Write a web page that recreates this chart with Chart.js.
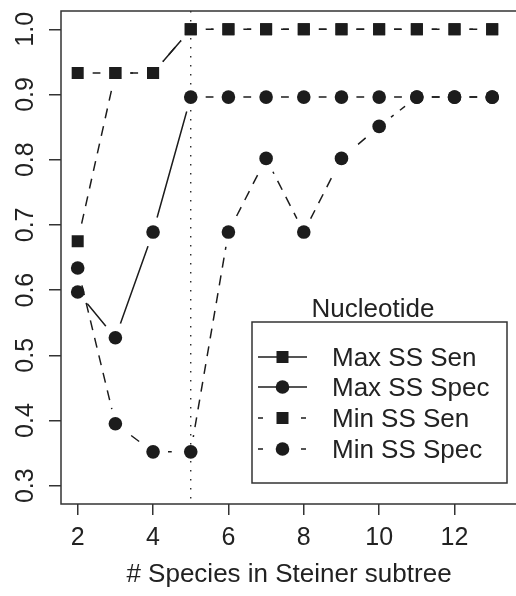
<!DOCTYPE html>
<html>
<head>
<meta charset="utf-8">
<script src="https://cdn.jsdelivr.net/npm/chart.js@4.4.1/dist/chart.umd.min.js"></script>
<style>
  html, body { margin: 0; padding: 0; background: #fff; overflow: hidden; }
  #wrap { width: 516px; height: 596px; }
</style>
</head>
<body>
<div id="wrap"><canvas id="chart" width="516" height="596"></canvas></div>
<script>
// values
const speciesCounts = [2, 3, 4, 5, 6, 7, 8, 9, 10, 11, 12, 13];
const maxSSSen  = [0.933, 0.933, 0.933, 1, 1, 1, 1, 1, 1, 1, 1, 1];
const maxSSSpec = [0.597, 0.527, 0.689, 0.896, 0.896, 0.896, 0.896, 0.896, 0.896, 0.896, 0.896, 0.896];
const minSSSen  = [0.675, 0.933, 0.933, 1, 1, 1, 1, 1, 1, 1, 1, 1];
const minSSSpec = [0.634, 0.395, 0.352, 0.352, 0.689, 0.802, 0.689, 0.802, 0.851, 0.896, 0.896, 0.896];
const xTicks = [2, 4, 6, 8, 10, 12];
const yTicks = [0.3, 0.4, 0.5, 0.6, 0.7, 0.8, 0.9, 1.0];
const cutoffSpecies = 5;

const INK = '#1c1c1c';
const FONT = '"Liberation Sans", Arial, sans-serif';
const GAP = 15;

const series = [
    { label: 'Max SS Sen',  values: maxSSSen,  shape: 'rect',   dashed: false },
    { label: 'Max SS Spec', values: maxSSSpec, shape: 'circle', dashed: false },
    { label: 'Min SS Sen',  values: minSSSen,  shape: 'rect',   dashed: true },
    { label: 'Min SS Spec', values: minSSSpec, shape: 'circle', dashed: true }
];

function toPoints(values) {
    return speciesCounts.map((x, i) => ({ x: x, y: values[i] }));
}

function markerRadius(shape) {
    return shape === 'rect' ? 8.5 : 6.8;
}

const datasets = [];
// lines first (with R-style gaps around points), then markers
series.forEach(s => {
    datasets.push({
        label: s.label,
        data: toPoints(s.values),
        gapLine: true,
        showLine: true,
        borderColor: INK,
        borderWidth: 1.5,
        borderDash: s.dashed ? [10, 8] : [],
        pointRadius: 0,
        pointHoverRadius: 0,
        fill: false,
        tension: 0
    });
});
series.forEach(s => {
    datasets.push({
        label: s.label + ' pts',
        data: toPoints(s.values),
        showLine: false,
        pointStyle: s.shape,
        pointRadius: markerRadius(s.shape),
        pointBackgroundColor: INK,
        pointBorderColor: INK,
        pointBorderWidth: 0
    });
});

// cut the lines near each point like plot(type = "b")
const gapPlugin = {
    id: 'gapPlugin',
    beforeDatasetDraw(chart, args) {
        const ds = chart.data.datasets[args.index];
        if (!ds.gapLine) return;
        const ctx = chart.ctx;
        ctx.save();
        ctx.beginPath();
        ctx.rect(0, 0, chart.width, chart.height);
        args.meta.data.forEach(pt => {
            ctx.moveTo(pt.x + GAP, pt.y);
            ctx.arc(pt.x, pt.y, GAP, 0, Math.PI * 2);
        });
        ctx.clip('evenodd');
    },
    afterDatasetDraw(chart, args) {
        const ds = chart.data.datasets[args.index];
        if (ds.gapLine) chart.ctx.restore();
    }
};

const framePlugin = {
    id: 'framePlugin',
    beforeDatasetsDraw(chart) {
        const ctx = chart.ctx;
        const a = chart.chartArea;
        const xs = chart.scales.x;
        const vx = xs.getPixelForValue(cutoffSpecies);
        ctx.save();
        ctx.strokeStyle = INK;
        ctx.lineWidth = 1.3;
        ctx.setLineDash([1.6, 7.4]);
        ctx.beginPath();
        ctx.moveTo(vx, a.top);
        ctx.lineTo(vx, a.bottom);
        ctx.stroke();
        ctx.restore();
    },
    afterDraw(chart) {
        const ctx = chart.ctx;
        const a = chart.chartArea;
        const xs = chart.scales.x;
        const ys = chart.scales.y;
        ctx.save();
        // box: the right side falls just outside the picture
        ctx.strokeStyle = '#333';
        ctx.lineWidth = 1.5;
        ctx.beginPath();
        ctx.moveTo(chart.width, a.top);
        ctx.lineTo(a.left, a.top);
        ctx.lineTo(a.left, a.bottom);
        ctx.lineTo(chart.width, a.bottom);
        ctx.stroke();

        ctx.fillStyle = '#222';
        ctx.font = '25px ' + FONT;
        ctx.textAlign = 'center';
        ctx.textBaseline = 'alphabetic';
        xTicks.forEach(v => {
            ctx.fillText(String(v), xs.getPixelForValue(v), 545);
        });
        yTicks.forEach(v => {
            ctx.save();
            ctx.translate(33, ys.getPixelForValue(v));
            ctx.rotate(-Math.PI / 2);
            ctx.fillText(v.toFixed(1), 0, 0);
            ctx.restore();
        });
        ctx.font = '26px ' + FONT;
        ctx.fillText('# Species in Steiner subtree', (a.left + 517) / 2, 582);

        // legend
        const box = { left: 252, top: 322, right: 507, bottom: 483 };
        ctx.strokeStyle = '#333';
        ctx.lineWidth = 1.5;
        ctx.fillStyle = '#fff';
        ctx.fillRect(box.left, box.top, box.right - box.left, box.bottom - box.top);
        ctx.strokeRect(box.left, box.top, box.right - box.left, box.bottom - box.top);
        ctx.fillStyle = '#222';
        ctx.textAlign = 'center';
        ctx.fillText('Nucleotide', 373, 317);

        const rowY = [357, 387, 418, 449];
        series.forEach((s, i) => {
            const y = rowY[i];
            ctx.strokeStyle = INK;
            ctx.lineWidth = 1.5;
            ctx.setLineDash([]);
            ctx.beginPath();
            if (s.dashed) {
                ctx.moveTo(258, y); ctx.lineTo(263, y);
                ctx.moveTo(301, y); ctx.lineTo(306, y);
            } else {
                ctx.moveTo(258, y); ctx.lineTo(307, y);
            }
            ctx.stroke();
            ctx.fillStyle = INK;
            if (s.shape === 'rect') {
                ctx.fillRect(282.5 - 6, y - 6, 12, 12);
            } else {
                ctx.beginPath();
                ctx.arc(282.5, y, 6.8, 0, Math.PI * 2);
                ctx.fill();
            }
            ctx.fillStyle = '#222';
            ctx.textAlign = 'left';
            ctx.font = '26px ' + FONT;
            ctx.fillText(s.label, 332, y + 9);
        });
        ctx.restore();
    }
};

new Chart(document.getElementById('chart'), {
    type: 'scatter',
    data: { datasets: datasets },
    plugins: [gapPlugin, framePlugin],
    options: {
        responsive: false,
        animation: false,
        layout: { padding: { left: 0, top: 11, right: 0, bottom: 0 } },
        plugins: {
            legend: { display: false },
            tooltip: { enabled: false }
        },
        scales: {
            x: {
                type: 'linear',
                min: 1.557,
                max: 13.406,
                afterBuildTicks: scale => { scale.ticks = xTicks.map(v => ({ value: v })); },
                afterFit: scale => { scale.height = 92; },
                ticks: { display: false },
                border: { display: false },
                grid: { drawOnChartArea: false, drawTicks: true, tickLength: 11, color: '#333', lineWidth: 1.5 }
            },
            y: {
                type: 'linear',
                min: 0.272,
                max: 1.028,
                afterBuildTicks: scale => { scale.ticks = yTicks.map(v => ({ value: v })); },
                afterFit: scale => { scale.width = 61; },
                ticks: { display: false },
                border: { display: false },
                grid: { drawOnChartArea: false, drawTicks: true, tickLength: 12, color: '#333', lineWidth: 1.5 }
            }
        }
    }
});
</script>
</body>
</html>
